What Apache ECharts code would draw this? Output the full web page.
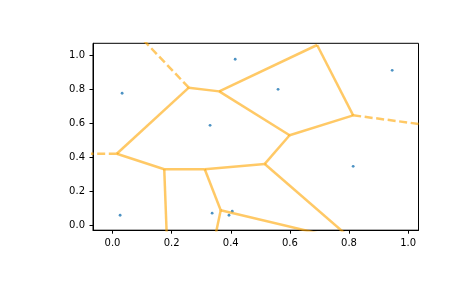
<!DOCTYPE html>
<html>
<head>
<meta charset="utf-8">
<script src="https://cdn.jsdelivr.net/npm/echarts@6/dist/echarts.min.js"></script>
<style>
html,body{margin:0;padding:0;background:#fff;}
#chart{width:465px;height:288px;}
</style>
</head>
<body>
<div id="chart"></div>
<script>
// Input points
var pointX = [0.0325, 0.415, 0.330, 0.560, 0.946, 0.814, 0.0257, 0.337, 0.394, 0.405];
var pointY = [0.778, 0.978, 0.589, 0.801, 0.913, 0.348, 0.060, 0.072, 0.060, 0.084];

// Voronoi vertices (0-9 visible, 10-13 off-screen finite vertices, 14-16 far points of infinite ridges)
var vertX = [0.258, 0.361, 0.692, 0.814, 0.599, 0.515, 0.0145, 0.175, 0.312, 0.366,
             0.1854, 0.337, 0.946, 0.854,
             0.045, 1.2, -0.2];
var vertY = [0.811, 0.789, 1.062, 0.648, 0.531, 0.362, 0.422, 0.331, 0.331, 0.089,
             -0.15, -0.15, -0.15, -0.15,
             1.2, 0.560, 0.422];

// Finite ridges (solid) and infinite ridges (dashed), as vertex index pairs
var solidEdges = [[0,1],[1,2],[2,3],[3,4],[1,4],[4,5],[5,8],[0,6],[6,7],[7,8],[8,9],
                  [7,10],[9,11],[9,12],[5,13]];
var dashedEdges = [[0,14],[3,15],[6,16]];

// Tick labels
var xTicks = [0.0, 0.2, 0.4, 0.6, 0.8, 1.0];
var yTicks = [0.0, 0.2, 0.4, 0.6, 0.8, 1.0];

var series = [];
series.push({
  type: 'scatter',
  data: pointX.map(function(x, i){ return [x, pointY[i]]; }),
  symbol: 'circle',
  symbolSize: 2.8,
  itemStyle: {color: '#1f77b4'},
  z: 1,
  silent: true
});
function edgeSeries(e, dashed) {
  return {
    type: 'line',
    data: [[vertX[e[0]], vertY[e[0]]], [vertX[e[1]], vertY[e[1]]]],
    showSymbol: false,
    symbol: 'none',
    clip: true,
    z: 2,
    silent: true,
    lineStyle: {
      color: 'orange',
      opacity: 0.6,
      width: 2.5,
      type: dashed ? [8, 3.6] : 'solid',
      cap: 'butt'
    }
  };
}
solidEdges.forEach(function(e){ series.push(edgeSeries(e, false)); });
dashedEdges.forEach(function(e){ series.push(edgeSeries(e, true)); });

var axisFont = {color: '#000', fontSize: 10, fontFamily: 'DejaVu Sans'};

var chart = echarts.init(document.getElementById('chart'), null, {renderer: 'canvas'});
chart.setOption({
  animation: false,
  backgroundColor: '#fff',
  grid: {
    left: 93, top: 43.3, width: 325.5, height: 186.9,
    show: true, borderColor: '#000', borderWidth: 1, backgroundColor: 'transparent'
  },
  xAxis: {
    type: 'value',
    min: -0.066, max: 1.035,
    splitLine: {show: false},
    axisLine: {show: true, onZero: false, lineStyle: {color: '#000', width: 1}},
    axisTick: {show: true, length: 3.5, lineStyle: {color: '#000', width: 1}, customValues: xTicks},
    axisLabel: Object.assign({margin: 8, customValues: xTicks, formatter: function(v){ return v.toFixed(1); }}, axisFont)
  },
  yAxis: {
    type: 'value',
    min: -0.028, max: 1.072,
    splitLine: {show: false},
    axisLine: {show: true, onZero: false, lineStyle: {color: '#000', width: 1}},
    axisTick: {show: true, length: 3.5, lineStyle: {color: '#000', width: 1}, customValues: yTicks},
    axisLabel: Object.assign({margin: 8, customValues: yTicks, formatter: function(v){ return v.toFixed(1); }}, axisFont)
  },
  series: series
});
</script>
</body>
</html>
